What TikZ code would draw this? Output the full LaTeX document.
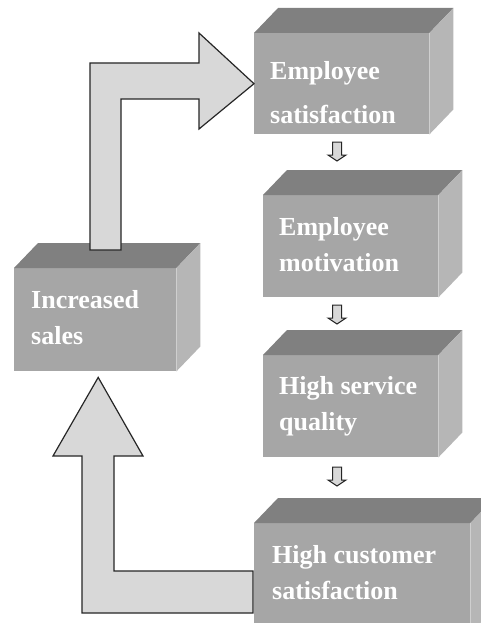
\documentclass[tikz,border=0pt]{standalone}
\usepackage{fontspec}
\setmainfont{Liberation Serif}
\usetikzlibrary{positioning,calc}

\definecolor{frontgray}{RGB}{166,166,166}
\definecolor{topgray}{RGB}{128,128,128}
\definecolor{sidegray}{RGB}{182,182,182}
\definecolor{arrowgray}{RGB}{216,216,216}

\tikzset{
  front/.style={fill=frontgray, minimum height=102pt, inner sep=0pt, anchor=north west},
  lbl/.style={text=white, font=\bfseries\fontsize{26}{36}\selectfont, align=left, inner sep=0pt},
  blockarrow/.style={fill=arrowgray, draw=black!85, line width=1.2pt, line join=miter},
}

% top and right faces of a box
\newcommand{\boxsides}[1]{%
  \fill[topgray] (#1.north west) -- ++(24,-25) -- ($(#1.north east)+(24,-25)$) -- (#1.north east) -- cycle;
  \fill[sidegray] (#1.north east) -- ++(24,-25) -- ($(#1.south east)+(24,-25)$) -- (#1.south east) -- cycle;
}
% small hollow arrow pointing down
\newcommand{\downtip}[1]{%
  \draw[blockarrow, line width=1pt] (#1) ++(-4.5,0) -- ++(9,0) -- ++(0,13) -- ++(4.5,0) -- ++(-9,6) -- ++(-9,-6) -- ++(4.5,0) -- cycle;
}

\begin{document}
\begin{tikzpicture}[x=1pt, y=-1pt]
        \useasboundingbox (0,0) rectangle (481,623);
        \fill[white] (0,0) rectangle (481,623);
        \clip (0,0) rectangle (481,623);

        % boxes
        \node[front, minimum width=175pt, minimum height=101pt] (sat) at (254,33) {};
        \node[front, minimum width=175pt] (mot) at (263,195) {};
        \node[front, minimum width=175pt] (qual) at (263,355) {};
        \node[front, minimum width=216pt, minimum height=110pt] (cust) at (254,523) {};
        \node[front, minimum width=162pt, minimum height=103pt] (sales) at (14,268) {};
        \boxsides{sat}
        \boxsides{mot}
        \boxsides{qual}
        \boxsides{cust}
        \boxsides{sales}

        % texts
        \node[lbl, font=\bfseries\fontsize{26}{44}\selectfont, below right=28pt and 16pt of sat.north west] (satLbl) {Employee\\satisfaction};
        \node[lbl, below right=22pt and 16pt of mot.north west] (motLbl) {Employee\\motivation};
        \node[lbl, below right=21pt and 16pt of qual.north west] (qualLbl) {High service\\quality};
        \node[lbl, below right=22pt and 18pt of cust.north west] (custLbl) {High customer\\satisfaction};
        \node[lbl, below right=22pt and 17pt of sales.north west] (salesLbl) {Increased\\sales};

        % small arrows down the column
        \coordinate (d1) at (337,142);
        \coordinate (d2) at (337,305);
        \coordinate (d3) at (337,467);
        \downtip{d1}
        \downtip{d2}
        \downtip{d3}

        % big bent arrows
        \draw[blockarrow] (90,250) |- (199,63) -- (199,33) -- (sat.west) -- (199,129) -- (199,99) -| (121,250) -- cycle;
        \draw[blockarrow] (253,613) -| (82,456) -- (53,456) -- ($(sales.south)+(3,6)$) -- (143,456) -- (114,456) |- (253,571) -- cycle;
\end{tikzpicture}
\end{document}
